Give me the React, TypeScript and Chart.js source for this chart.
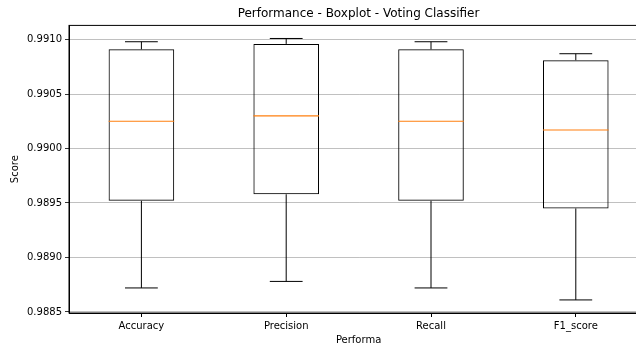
import React, { useEffect, useRef } from 'react';
import { Chart, registerables } from 'chart.js';

Chart.register(...registerables);

const categories = ['Accuracy', 'Precision', 'Recall', 'F1_score'];
const whiskerLow = [0.98872, 0.98878, 0.98872, 0.98861];
const q1 = [0.98952, 0.98958, 0.98952, 0.98945];
const median = [0.99025, 0.9903, 0.99025, 0.99017];
const q3 = [0.99091, 0.99096, 0.99091, 0.99081];
const whiskerHigh = [0.99098, 0.99101, 0.99098, 0.99087];

const FONT = 'DejaVu Sans';

export default function App() {
  const ref = useRef<HTMLCanvasElement>(null);

  useEffect(() => {
    if (!ref.current) return;

    const boxExtras = {
      id: 'boxExtras',
      afterDatasetsDraw(chart: any) {
        const { ctx, chartArea, scales } = chart;
        const x = scales.x;
        const y = scales.y;
        const meta = chart.getDatasetMeta(0);
        ctx.save();
        const seg = (x1: number, y1: number, x2: number, y2: number) => {
          ctx.beginPath();
          ctx.moveTo(x1, y1);
          ctx.lineTo(x2, y2);
          ctx.stroke();
        };
        meta.data.forEach((bar: any, i: number) => {
          const cx = x.getPixelForValue(i);
          const half = bar.width / 2;
          const capHalf = half / 2;
          ctx.strokeStyle = '#000';
          ctx.lineWidth = 1;
          const yHi = y.getPixelForValue(whiskerHigh[i]);
          const yQ3 = y.getPixelForValue(q3[i]);
          const yQ1 = y.getPixelForValue(q1[i]);
          const yLo = y.getPixelForValue(whiskerLow[i]);
          seg(cx, yQ3, cx, yHi);
          seg(cx - capHalf, yHi, cx + capHalf, yHi);
          seg(cx, yQ1, cx, yLo);
          seg(cx - capHalf, yLo, cx + capHalf, yLo);
          ctx.strokeStyle = '#ff7f0e';
          ctx.lineWidth = 1.2;
          const yMed = y.getPixelForValue(median[i]);
          seg(cx - half, yMed, cx + half, yMed);
        });
        ctx.strokeStyle = '#000';
        ctx.lineWidth = 1;
        ctx.strokeRect(chartArea.left, chartArea.top, chartArea.right - chartArea.left, chartArea.bottom - chartArea.top);
        ctx.restore();
      },
    };

    const chart = new Chart(ref.current, {
      type: 'bar',
      data: {
        labels: categories,
        datasets: [
          {
            data: categories.map((_, i) => [q1[i], q3[i]]) as any,
            backgroundColor: 'rgba(0,0,0,0)',
            borderColor: '#000',
            borderWidth: 1,
            borderSkipped: false,
            barPercentage: 0.453,
            categoryPercentage: 1,
          },
        ],
      },
      options: {
        animation: false,
        responsive: false,
        devicePixelRatio: 1,
        layout: { padding: 0 },
        plugins: {
          legend: { display: false },
          tooltip: { enabled: false },
          title: {
            display: true,
            text: 'Performance - Boxplot - Voting Classifier',
            color: '#000',
            font: { family: FONT, size: 12, weight: 'normal' },
            padding: { top: 7, bottom: 4 },
          },
        },
        scales: {
          x: {
            type: 'category',
            offset: true,
            grid: { display: true, drawOnChartArea: false, offset: false, tickLength: 4, tickColor: '#000' },
            border: { display: true, color: '#000', width: 1 },
            ticks: { color: '#000', font: { family: FONT, size: 10 }, padding: 3, maxRotation: 0 },
            title: {
              display: true,
              text: 'Performa',
              color: '#000',
              font: { family: FONT, size: 10 },
              padding: { top: 1, bottom: 0 },
            },
            afterFit: (s: any) => {
              s.height = 33;
            },
          },
          y: {
            type: 'linear',
            position: 'left',
            min: 0.98849,
            max: 0.99113,
            grid: { color: '#b0b0b0', lineWidth: 0.8, tickLength: 4, tickColor: '#000' },
            border: { display: true, color: '#000', width: 1 },
            ticks: {
              stepSize: 0.0005,
              includeBounds: false,
              color: '#000',
              font: { family: FONT, size: 10 },
              padding: 3,
              callback: (v: any) => Number(v).toFixed(4),
            },
            title: {
              display: true,
              text: 'Score',
              color: '#000',
              font: { family: FONT, size: 10 },
              padding: { top: 9, bottom: 0 },
            },
            afterFit: (s: any) => {
              s.width = 69;
            },
          },
          y2: {
            type: 'linear',
            position: 'right',
            display: true,
            grid: { display: false },
            border: { display: false },
            ticks: { display: false },
            afterFit: (s: any) => {
              s.width = 68.8;
            },
          },
        },
      } as any,
      plugins: [boxExtras],
    });

    return () => chart.destroy();
  }, []);

  return (
    <div style={{ position: 'fixed', left: 0, top: 0, width: 636, height: 346, overflow: 'hidden', background: '#fff' }}>
      <canvas ref={ref} width={717} height={346} style={{ width: 717, height: 346, display: 'block' }} />
    </div>
  );
}
